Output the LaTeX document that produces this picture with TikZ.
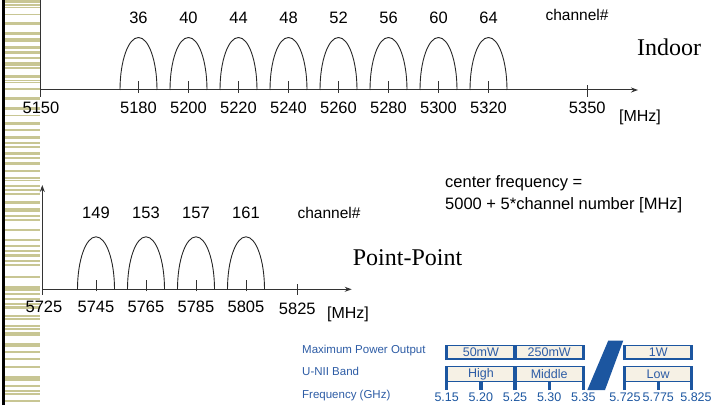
\documentclass[tikz,border=0pt]{standalone}
\usepackage{fontspec}
\setmainfont{Liberation Serif}
\setsansfont{Liberation Sans}
\usetikzlibrary{arrows.meta}
\definecolor{olivebar}{RGB}{200,198,148}
\definecolor{bandblue}{RGB}{28,86,160}
\definecolor{textblue}{RGB}{45,92,165}
\definecolor{cream}{RGB}{246,241,229}

\begin{document}
\begin{tikzpicture}[
			x=1pt, y=1pt,
			line join=round,
			ax/.style={black!80, line width=1pt},
			axarr/.style={ax, -{Stealth[length=7pt,width=5pt]}},
			lobe/.style={black!85, line width=0.9pt},
			lab/.style={font=\sffamily\fontsize{16.5}{18}\selectfont, inner sep=0pt},
			big/.style={font=\fontsize{24}{26}\selectfont, inner sep=0pt},
			tiny/.style={font=\sffamily\fontsize{11.5}{12}\selectfont, text=textblue, inner sep=0pt},
			post/.style={bandblue, line width=3.3pt},
			hop/.style={draw=bandblue, fill=cream, line width=1.3pt, inner sep=0pt,
				font=\sffamily\fontsize{12.5}{13}\selectfont, text=textblue}
			]
			\useasboundingbox (0,0) rectangle (715,405);
			% left margin
			\draw[line width=2.5pt] (3.5,0) -- (3.5,405);
			\foreach \y/\h in {0/2.7,4.5/0.8,7/0.8,14/1,22.5/1.7,32.3/2.3,38.5/1,40.5/1,46.7/2.3,51.7/1.6,
				57.5/1,62.7/2.6,67.5/1,75/2.3,80/0.8,82/1,88.3/1.7,97.3/2,107.3/2.7,115/1,122.7/1.4,
				129.3/1,136/2.4,142.7/1,146.7/1,152.7/2.3,157.3/1,162.7/2.3,170/1.7,177.3/1,180/1,
				185/1.7,189.3/1,193.3/1,201.7/1.7,208.3/3.3,215/1,219.3/1,229/1,239.3/1.4,245/1,
				250.7/1,254/2,260.7/1,264/1,276.7/1,286.7/3.3,293.3/1,298.3/1,303.3/1,306.7/2,315/1,
				318.3/1,325/1,328.3/1,332.7/2.3,343.3/3.3,351.7/1,358.3/1,366.7/1,376.7/3.3,385/1,
				390/1,393.3/1,400/1}
				\fill[olivebar] (5,{405-\y+0.4}) rectangle (40,{405-\y-\h-0.5});

			% Indoor
			\begin{scope}[shift={(0,315)}]
				\coordinate (o1) at (40,0);
				\draw[ax] (40,-7) -- (o1);
				\draw[axarr] (o1) -- (40,100);
				\draw[axarr] (o1) -- (638,0);
				\foreach \c [count=\i from 0, evaluate=\c as \f using int(5000+5*\c)] in {36,40,...,64} {
					\draw[lobe] ({120+50*\i},0) arc[start angle=180, end angle=0, x radius=18.5, y radius=52.5];
					\draw[ax] ({138.5+50*\i},-3) -- ++(0,12);
					\node[lab] (c\c) at ({138.5+50*\i},72) {\c};
					\node[lab] (f\c) at ({138.5+50*\i},-18.3) {\f};
				}
				\draw[ax] (587.3,-7) -- ++(0,12);
				\node[lab] (f5150) at (41,-18.3) {5150};
				\node[lab] (f5350) at (587.3,-18.3) {5350};
				\node[lab, font=\sffamily\fontsize{16}{18}\selectfont] (mhz1) at (640,-27) {[MHz]};
				\node[lab, font=\sffamily\fontsize{15.5}{18}\selectfont] (ch1) at (577,75) {channel\#};
				\node[big] (indoor) at (669,43) {Indoor};
			\end{scope}

			% Point-Point
			\begin{scope}[shift={(0,115.7)}]
				\coordinate (o2) at (42.3,0);
				\draw[ax] (42.3,-5.3) -- (o2);
				\draw[axarr] (o2) -- (42.3,104.3);
				\draw[axarr] (o2) -- (351.7,0);
				\foreach \c [count=\i from 0, evaluate=\c as \f using int(5000+5*\c)] in {149,153,157,161} {
					\draw[lobe] ({77.5+50*\i},0) arc[start angle=180, end angle=0, x radius=18.5, y radius=52.5];
					\draw[ax] ({96+50*\i},-2) -- ++(0,11);
					\node[lab] (c\c) at ({96+50*\i},76) {\c};
					\node[lab] (f\c) at ({96+50*\i},-17.4) {\f};
				}
				\draw[ax] (297.3,-5.3) -- ++(0,10.6);
				\node[lab] (f5725) at (44,-17.4) {5725};
				\node[lab] (f5825) at (297.3,-19.5) {5825};
				\node[lab, font=\sffamily\fontsize{16}{18}\selectfont] (mhz2) at (348,-24.7) {[MHz]};
				\node[lab, font=\sffamily\fontsize{15.5}{18}\selectfont] (ch2) at (329,76) {channel\#};
				\node[big] (pp) at (407.5,31.3) {Point-Point};
			\end{scope}

			\node[lab, anchor=west] (cf1) at (445,222) {center frequency =};
			\node[lab, anchor=west] (cf2) at (445,200) {5000 + 5*channel number [MHz]};

			% U-NII bands
			\node[tiny, anchor=west] (mpo) at (302,54.3) {Maximum Power Output};
			\node[tiny, anchor=west] (unii) at (302,33.3) {U-NII Band};
			\node[tiny, anchor=west] (fghz) at (302,9.3) {Frequency (GHz)};
			\node[hop, minimum width=68.3, minimum height=13.5] (p50) at (480.9,52.8) {50mW};
			\node[hop, minimum width=68.3, minimum height=13.5] (p250) at (549.2,52.8) {250mW};
			\node[hop, minimum width=67, minimum height=13.5] (p1) at (658.2,52.8) {1W};
			\node[hop, minimum width=68.3, minimum height=15] (bh) at (480.9,30.8) {High};
			\node[hop, minimum width=68.3, minimum height=15] (bm) at (549.2,30.8) {Middle};
			\node[hop, minimum width=67, minimum height=15] (bl) at (658.2,30.8) {Low};
			\foreach \x in {446.7,515,583.3,624.7,691.7} {
				\draw[post] (\x,45) -- (\x,60.5);
				\draw[post] (\x,15) -- (\x,39.5);
			}
			\foreach \x in {480.9,549.2,658.2}
				\draw[post] (\x,15) -- (\x,23);
			\fill[bandblue] (587.3,15) -- (605,15) -- (623.3,64.5) -- (608.3,64.5) -- cycle;
			\foreach \x/\t in {446.7/5.15,480.9/5.20,515/5.25,549.2/5.30,583.3/5.35,
				625/5.725,658.3/5.775,696/5.825}
				\node[tiny, font=\sffamily\fontsize{12.5}{13}\selectfont, text=bandblue] (g\t) at (\x,8) {\t};
		\end{tikzpicture}
\end{document}
